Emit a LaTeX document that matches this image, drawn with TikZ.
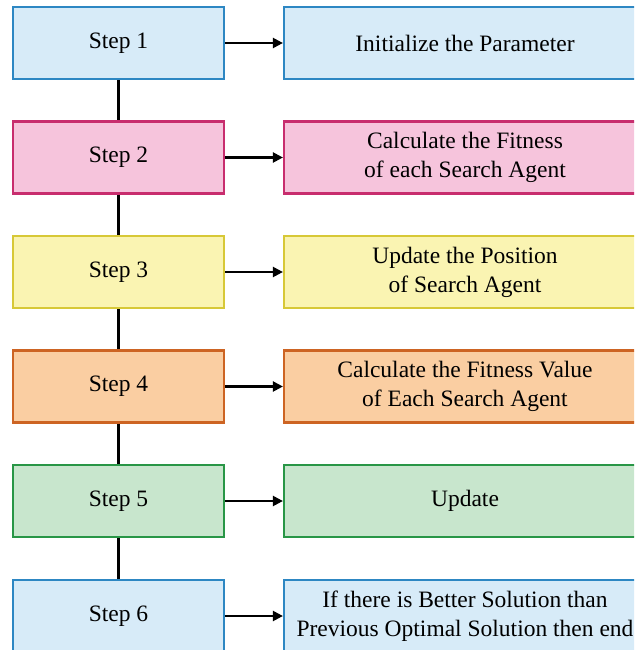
\documentclass[tikz,border=0pt]{standalone}
\usepackage{fontspec}
\setmainfont{Liberation Serif}
\usetikzlibrary{arrows.meta}
\definecolor{bfill}{RGB}{215,235,248}
\definecolor{bdraw}{RGB}{45,135,195}
\definecolor{pfill}{RGB}{246,196,220}
\definecolor{pdraw}{RGB}{200,45,110}
\definecolor{yfill}{RGB}{250,244,178}
\definecolor{ydraw}{RGB}{215,200,55}
\definecolor{ofill}{RGB}{250,206,162}
\definecolor{odraw}{RGB}{205,100,35}
\definecolor{gfill}{RGB}{200,230,205}
\definecolor{gdraw}{RGB}{40,150,70}
\tikzset{
  stepbox/.style={draw, line width=2.2pt, minimum width=211pt, minimum height=72pt, inner sep=0pt, align=center, font=\fontsize{23.5}{29}\selectfont},
  infobox/.style={draw, line width=2.2pt, minimum width=362pt, minimum height=72pt, inner sep=0pt, align=center, font=\fontsize{23.5}{29}\selectfont},
  conn/.style={line width=2.2pt, black},
  arr/.style={line width=2.2pt, black, -{Triangle[length=10pt,width=10pt]}},
}
\begin{document}
\begin{tikzpicture}[x=1pt,y=-1pt]
\useasboundingbox (0,0) rectangle (634,650);
\begin{scope}
\clip (0,0) rectangle (634,650);
\node[stepbox, fill=bfill, draw=bdraw] (s1) at (118.5,43) {Step 1};
\node[stepbox, fill=pfill, draw=pdraw] (s2) at (118.5,157.5) {Step 2};
\node[stepbox, fill=yfill, draw=ydraw] (s3) at (118.5,272) {Step 3};
\node[stepbox, fill=ofill, draw=odraw] (s4) at (118.5,386.5) {Step 4};
\node[stepbox, fill=gfill, draw=gdraw] (s5) at (118.5,501) {Step 5};
\node[stepbox, fill=bfill, draw=bdraw] (s6) at (118.5,616) {Step 6};
\node[infobox, fill=bfill, draw=bdraw] (r1) at (465,43) {Initialize the Parameter};
\node[infobox, fill=pfill, draw=pdraw] (r2) at (465,157.5) {Calculate the Fitness\\of each Search Agent};
\node[infobox, fill=yfill, draw=ydraw] (r3) at (465,272) {Update the Position\\of Search Agent};
\node[infobox, fill=ofill, draw=odraw] (r4) at (465,386.5) {Calculate the Fitness Value\\of Each Search Agent};
\node[infobox, fill=gfill, draw=gdraw] (r5) at (465,501) {Update};
\node[infobox, fill=bfill, draw=bdraw] (r6) at (465,616) {If there is Better Solution than\\Previous Optimal Solution then end};
\foreach \a/\b in {s1/s2,s2/s3,s3/s4,s4/s5,s5/s6}
  \draw[conn] (\a.south) -- (\b.north);
\foreach \i in {1,...,6}
  \draw[arr] (s\i.east) -- (r\i.west);
\end{scope}
\end{tikzpicture}
\end{document}
